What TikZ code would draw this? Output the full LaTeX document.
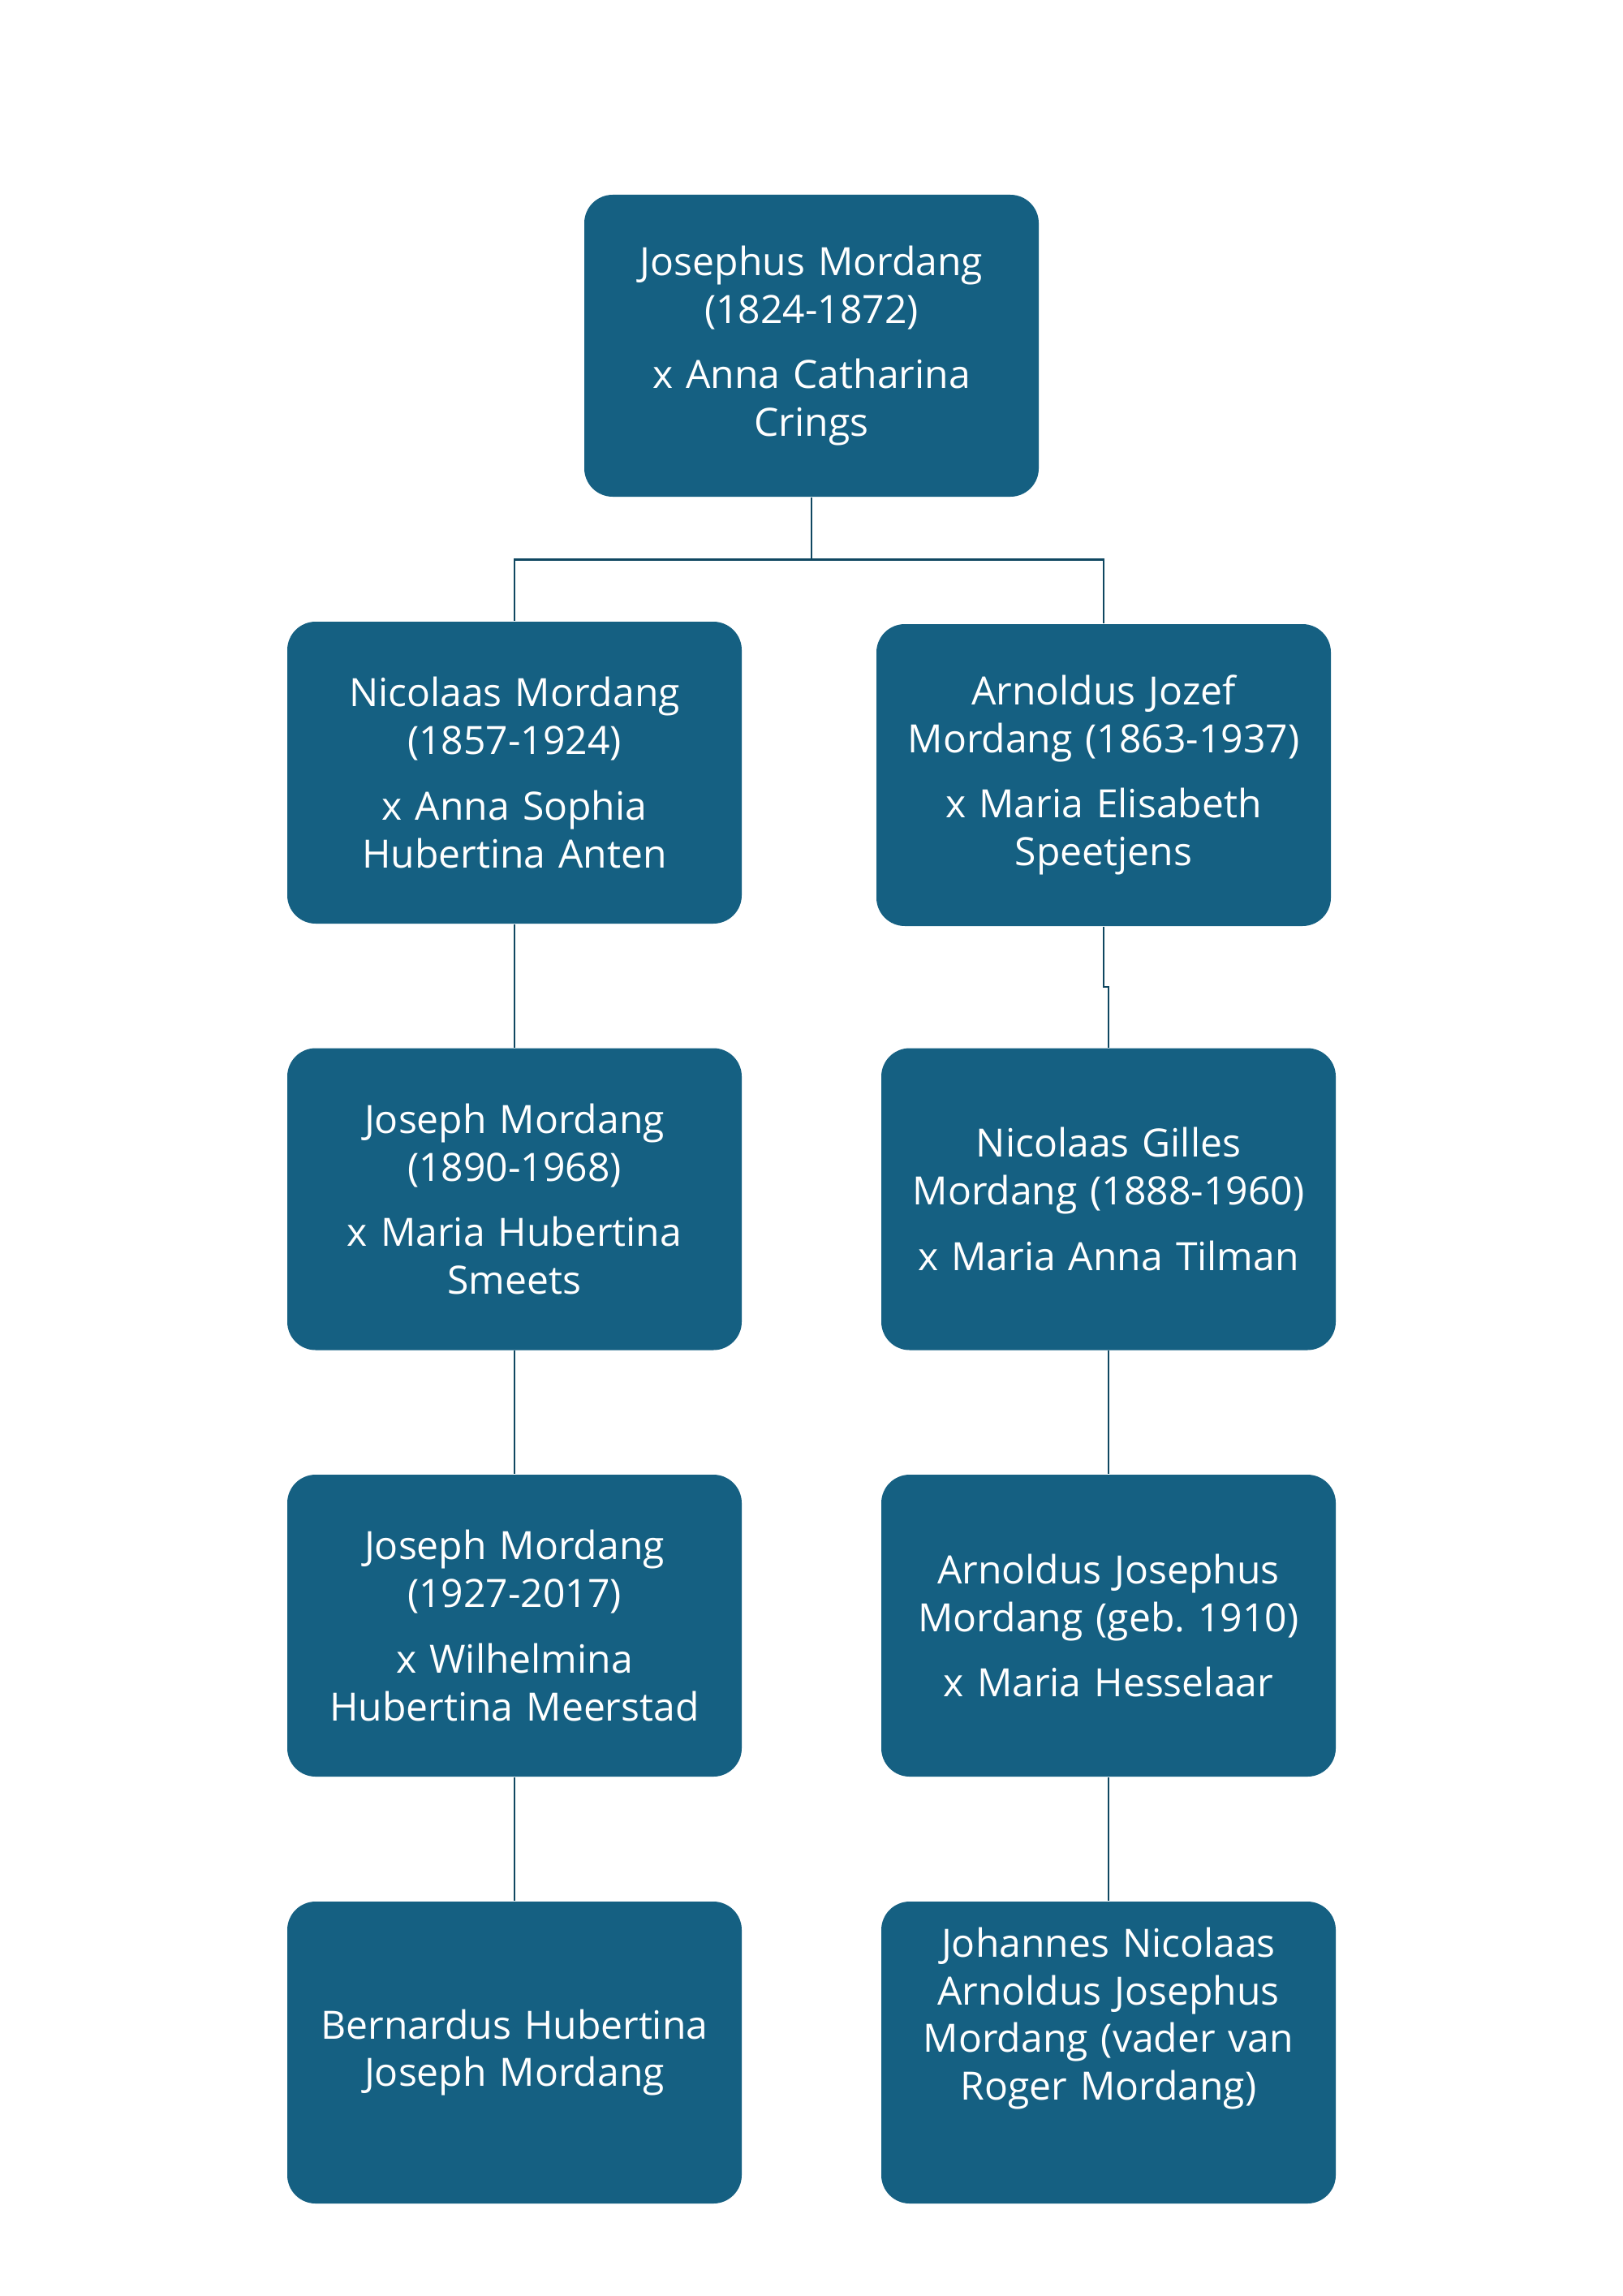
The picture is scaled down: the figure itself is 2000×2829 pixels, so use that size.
\documentclass[tikz,border=0pt]{standalone}
\usepackage{fontspec}
\setmainfont{Open Sans}
\definecolor{boxblue}{HTML}{156082}
\definecolor{linecol}{HTML}{0F4761}
\begin{document}
\begin{tikzpicture}[x=0.29764pt,y=-0.29764pt,
  person/.style={draw=none,fill=boxblue,rounded corners=10.4pt,
    minimum width=166.68pt,minimum height=110.72pt,inner sep=0pt,
    text width=164pt,align=center,text=white,
    font=\fontsize{14.3}{17.5}\selectfont\frenchspacing},
  conn/.style={draw=linecol,line width=0.75pt}]
\useasboundingbox (0,0) rectangle (2000,2829);
\fill[white] (0,0) rectangle (2000,2829);

\node[person] (top) at (1000,426) {Josephus Mordang\\(1824-1872)\\[6.5pt]x Anna Catharina\\Crings};
\node[person] (L2) at (634,952) {Nicolaas Mordang\\(1857-1924)\\[6.5pt]x Anna Sophia\\Hubertina Anten};
\node[person] (R2) at (1360,955) {Arnoldus Jozef\\Mordang (1863-1937)\\[6.5pt]x Maria Elisabeth\\Speetjens};
\node[person] (L3) at (634,1477.5) {Joseph Mordang\\(1890-1968)\\[6.5pt]x Maria Hubertina\\Smeets};
\node[person] (R3) at (1366,1477.5) {Nicolaas Gilles\\Mordang (1888-1960)\\[6.5pt]x Maria Anna Tilman};
\node[person] (L4) at (634,2003) {Joseph Mordang\\(1927-2017)\\[6.5pt]x Wilhelmina\\Hubertina Meerstad};
\node[person] (R4) at (1366,2003) {Arnoldus Josephus\\Mordang (geb.\ 1910)\\[6.5pt]x Maria Hesselaar};
\node[person] (L5) at (634,2529) {Bernardus Hubertina\\Joseph Mordang};
\node[person] (R5) at (1366,2529) {Johannes Nicolaas\\Arnoldus Josephus\\Mordang (vader van\\Roger Mordang)\\[11pt]\mbox{}};

\coordinate (j) at (1000,689.5);
\coordinate (k) at (1360,1216);
\draw[conn] (top.south) -- (j) -| (L2.north);
\draw[conn] (j) -| (R2.north);
\draw[conn] (R2.south) -- (k) -| (R3.north);
\draw[conn] (L2.south) -- (L3.north);
\draw[conn] (L3.south) -- (L4.north);
\draw[conn] (L4.south) -- (L5.north);
\draw[conn] (R3.south) -- (R4.north);
\draw[conn] (R4.south) -- (R5.north);
\end{tikzpicture}
\end{document}
